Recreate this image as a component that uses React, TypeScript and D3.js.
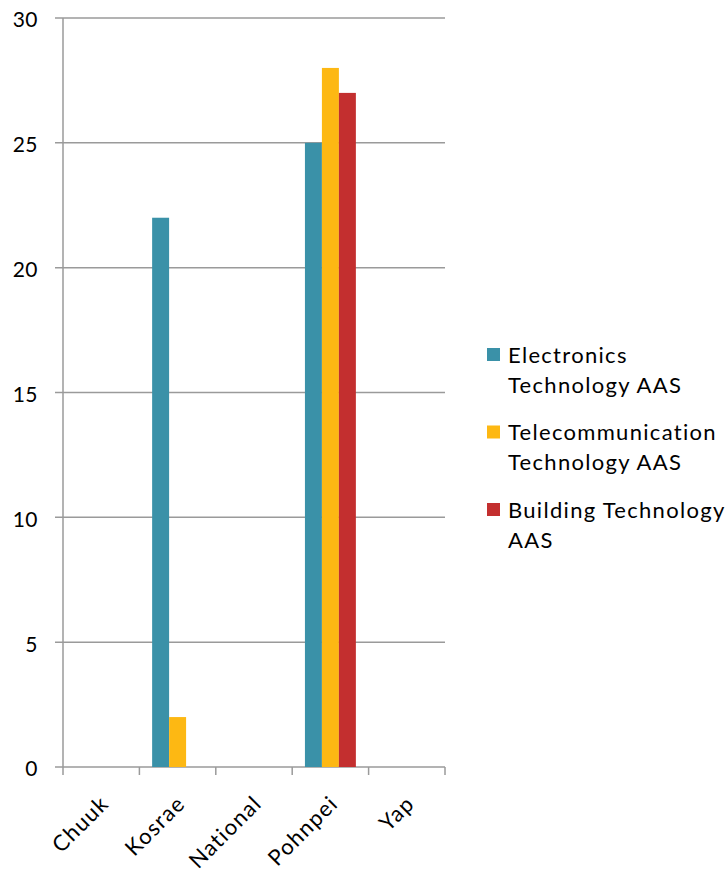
import React from "react";
import * as d3 from "d3";

const categories = ["Chuuk", "Kosrae", "National", "Pohnpei", "Yap"];
const seriesNames = [
  ["Electronics", "Technology AAS"],
  ["Telecommunication", "Technology AAS"],
  ["Building Technology", "AAS"],
];
const electronics = [0, 22, 0, 25, 0];
const telecom = [0, 2, 0, 28, 0];
const building = [0, 0, 0, 27, 0];
const yTicks = [0, 5, 10, 15, 20, 25, 30];
const colors = ["#3a91a8", "#fdb813", "#c32f2f"];

const W = 727;
const H = 875;
const FONT = "Lato, 'Open Sans', sans-serif";

export default function App() {
  const left = 63, right = 445, top = 18, bottom = 767;
  const x = d3.scaleBand<string>().domain(categories).range([left, right]).paddingInner(0).paddingOuter(0);
  const y = d3.scaleLinear().domain([0, 30]).range([bottom, top]);
  const series = [electronics, telecom, building];
  const bw = x.bandwidth();
  const groupW = bw / (3 + 1.5);
  const gap = (bw - 3 * groupW) / 2;
  const grid = "#9a9a9a";

  return (
    <svg width={W} height={H} style={{ position: "absolute", left: 0, top: 0, background: "#fff" }}>
      {yTicks.map((t) => (
        <g key={t}>
          <line x1={55} x2={right} y1={y(t)} y2={y(t)} stroke={grid} strokeWidth={1.5} />
          <text x={38} y={y(t)} dy="0.45em" textAnchor="end" fontFamily={FONT} fontSize={21} letterSpacing={0.5} fill="#000">
            {t}
          </text>
        </g>
      ))}
      <line x1={left} x2={left} y1={top} y2={bottom + 8} stroke={grid} strokeWidth={1.5} />
      {categories.map((c, i) => (
        <line key={c} x1={left + (i + 1) * bw} x2={left + (i + 1) * bw} y1={bottom} y2={bottom + 8} stroke={grid} strokeWidth={1.5} />
      ))}
      {series.map((s, si) =>
        s.map((v, ci) =>
          v > 0 ? (
            <rect
              key={`${si}-${ci}`}
              x={(x(categories[ci]) as number) + gap + si * groupW}
              y={y(v)}
              width={groupW}
              height={y(0) - y(v)}
              fill={colors[si]}
            />
          ) : null
        )
      )}
      {categories.map((c) => {
        const cx = (x(c) as number) + bw / 2 + 9;
        const cy = 805;
        return (
          <text key={c} x={cx} y={cy} textAnchor="end" fontFamily={FONT} fontSize={22} letterSpacing={1.3} fill="#000" transform={`rotate(-45 ${cx} ${cy})`}>
            {c}
          </text>
        );
      })}
      {seriesNames.map((lines, i) => {
        const y0 = 355 + i * 77.5;
        return (
          <g key={i}>
            <rect x={487} y={y0 - 7} width={13} height={13} fill={colors[i]} />
            {lines.map((l, li) => (
              <text key={li} x={508} y={y0 + li * 30} dy="0.35em" fontFamily={FONT} fontSize={22} letterSpacing={1.3} fill="#000">
                {l}
              </text>
            ))}
          </g>
        );
      })}
    </svg>
  );
}
